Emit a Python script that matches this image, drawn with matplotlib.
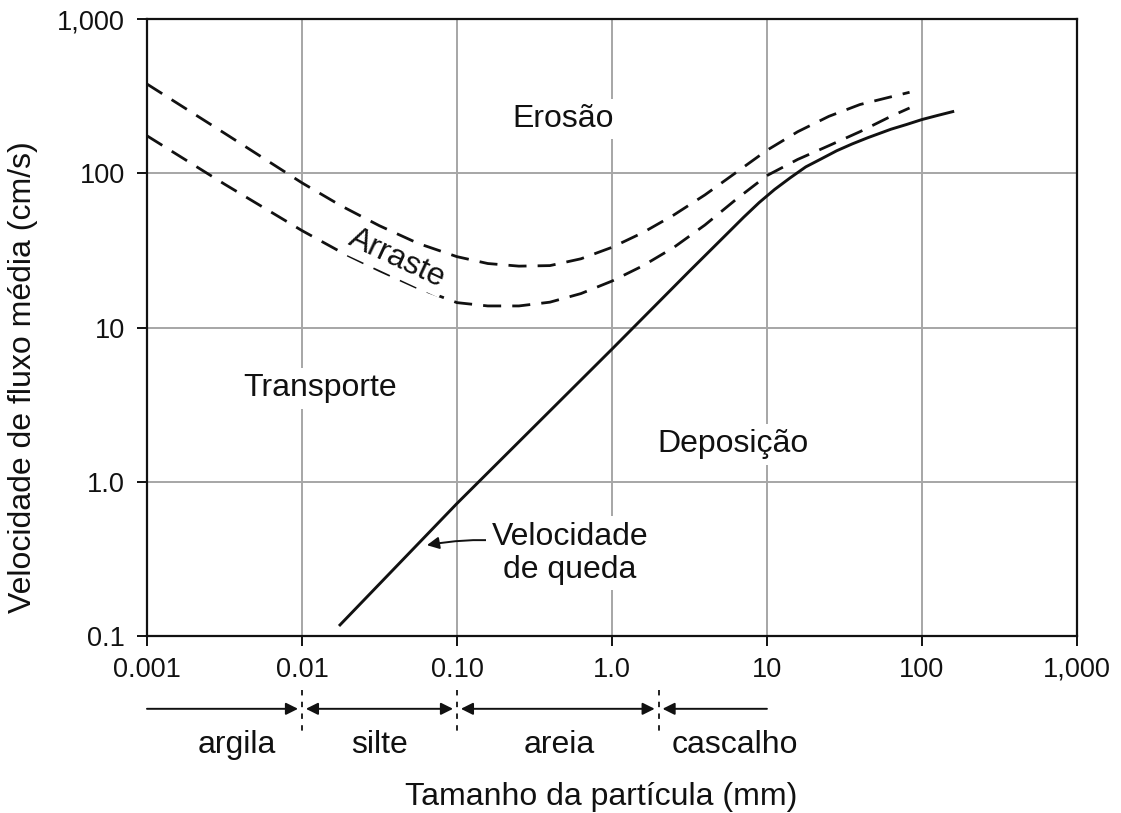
import numpy as np
import matplotlib.pyplot as plt
from matplotlib.transforms import blended_transform_factory

plt.rcParams['font.family'] = ['Liberation Sans', 'DejaVu Sans']

# Hjulstrom-type curves, read as (particle size mm, flow velocity cm/s)
erosion_size = [0.001, 0.00316, 0.01, 0.0178, 0.0316, 0.0562, 0.1, 0.158,
                0.251, 0.398, 0.631, 1.0, 1.58, 2.51, 3.98, 6.31, 10, 15.8,
                25.1, 39.8, 63.1, 83.2]
erosion_vel = [379, 182, 86.7, 61.7, 45.7, 35.1, 28.8, 26.0,
               25.0, 25.2, 27.9, 33.1, 41.2, 53.7, 72.4, 101, 141, 186,
               234, 279, 313, 335]

drag_size = [0.001, 0.00316, 0.01, 0.0178, 0.0316, 0.0562, 0.1, 0.158,
             0.251, 0.398, 0.631, 1.0, 1.58, 2.51, 3.98, 6.31, 10, 15.8,
             25.1, 39.8, 63.1, 83.2]
drag_vel = [175, 85.1, 42.5, 30.9, 23.4, 18.0, 14.5, 13.8,
            13.8, 14.6, 16.6, 20.0, 25.1, 33.1, 46.2, 67.6, 96.6, 123,
            151, 186, 234, 265]

fall_size = [0.0176, 0.1, 1.0, 3.16, 5.62, 7.08, 8.91, 11.2, 14.1, 17.8,
             22.4, 28.2, 35.5, 44.7, 63.1, 79.4, 100, 126, 158]
fall_vel = [0.118, 0.723, 7.24, 23.2, 41.2, 51.9, 64.6, 78.5, 93.3, 110,
            124, 140, 155, 170, 193, 207, 223, 237, 251]

x_ticks = [0.001, 0.01, 0.1, 1, 10, 100, 1000]
x_tick_labels = ['0.001', '0.01', '0.10', '1.0', '10', '100', '1,000']
y_ticks = [0.1, 1, 10, 100, 1000]
y_tick_labels = ['0.1', '1.0', '10', '100', '1,000']

# grain-size classes along the x axis
class_bounds = [0.01, 0.1, 2.0]
class_names = ['argila', 'silte', 'areia', 'cascalho']
class_label_x = [0.0038, 0.0318, 0.46, 6.2]

ink = '#111111'
grid_col = '#a6a6a6'

fig = plt.figure(figsize=(11.21, 8.13), dpi=100)
ax = fig.add_axes([0.1311, 0.2177, 0.8296, 0.7589])
ax.set_xscale('log')
ax.set_yscale('log')
ax.set_xlim(0.001, 1000)
ax.set_ylim(0.1, 1000)

ax.plot(erosion_size, erosion_vel, color=ink, lw=2.0, dashes=(6.5, 4), zorder=3)
ax.plot(drag_size, drag_vel, color=ink, lw=2.0, dashes=(6.5, 4), zorder=3)
ax.plot(fall_size, fall_vel, color=ink, lw=2.1, zorder=3)

ax.set_xticks(x_ticks, x_tick_labels)
ax.set_yticks(y_ticks, y_tick_labels)
ax.minorticks_off()
ax.tick_params(axis='both', direction='out', length=7, width=1.4, color=ink,
               labelsize=19.5, labelcolor=ink)
ax.tick_params(axis='x', pad=8)
ax.tick_params(axis='y', pad=9)
ax.grid(True, color=grid_col, lw=1.4, zorder=1)
ax.set_axisbelow(True)
for sp in ax.spines.values():
    sp.set_color(ink)
    sp.set_linewidth(1.6)

fs = 23
box = dict(facecolor='white', edgecolor='none', pad=4)
ax.text(0.483, 225, 'Erosão', fontsize=fs, ha='center', va='center',
        color=ink, bbox=box, zorder=5)
ax.text(0.0131, 4.03, 'Transporte', fontsize=fs, ha='center', va='center',
        color=ink, bbox=box, zorder=5)
ax.text(6.04, 1.75, 'Deposição', fontsize=fs, ha='center', va='center',
        color=ink, bbox=box, zorder=5)
ax.text(0.041, 28, 'Arraste', fontsize=fs, ha='center', va='center',
        rotation=-25, color=ink, bbox=dict(facecolor='white', edgecolor='none', pad=2),
        zorder=5)
ax.annotate('Velocidade\nde queda', xy=(0.064, 0.388), xytext=(0.536, 0.344),
            fontsize=fs, ha='center', va='center', color=ink,
            linespacing=1.15, bbox=box, zorder=5,
            arrowprops=dict(arrowstyle='-|>', color=ink, lw=1.4,
                            mutation_scale=18, shrinkA=0, shrinkB=0,
                            connectionstyle='arc3,rad=0.12',
                            patchA=None))

ax.set_xlabel('Tamanho da partícula (mm)', fontsize=fs, color=ink)
ax.xaxis.set_label_coords(0.488, -0.236)
ax.set_ylabel('Velocidade de fluxo média (cm/s)', fontsize=fs, color=ink)
ax.yaxis.set_label_coords(-0.117, 0.42)

# class arrows and separators under the x axis
tr = blended_transform_factory(ax.transData, ax.transAxes)
arrow_y = -0.118
for b in class_bounds:
    ax.plot([b, b], [-0.088, -0.160], transform=tr, color=ink, lw=1.3,
            dashes=(3, 3.5), clip_on=False)
gap = 1.06
spans = [(0.001, class_bounds[0] / gap, '-|>'),
         (class_bounds[0] * gap, class_bounds[1] / gap, '<|-|>'),
         (class_bounds[1] * gap, class_bounds[2] / gap, '<|-|>'),
         (10, class_bounds[2] * gap, '-|>')]
for x0, x1, style in spans:
    ax.annotate('', xy=(x1, arrow_y), xytext=(x0, arrow_y), xycoords=tr,
                textcoords=tr, annotation_clip=False,
                arrowprops=dict(arrowstyle=style, color=ink, lw=1.4,
                                mutation_scale=18, shrinkA=0, shrinkB=0))
for name, xc in zip(class_names, class_label_x):
    ax.text(xc, -0.177, name, transform=tr, fontsize=fs, ha='center',
            va='center', color=ink, clip_on=False)

fig.savefig('out.png', dpi=100)
